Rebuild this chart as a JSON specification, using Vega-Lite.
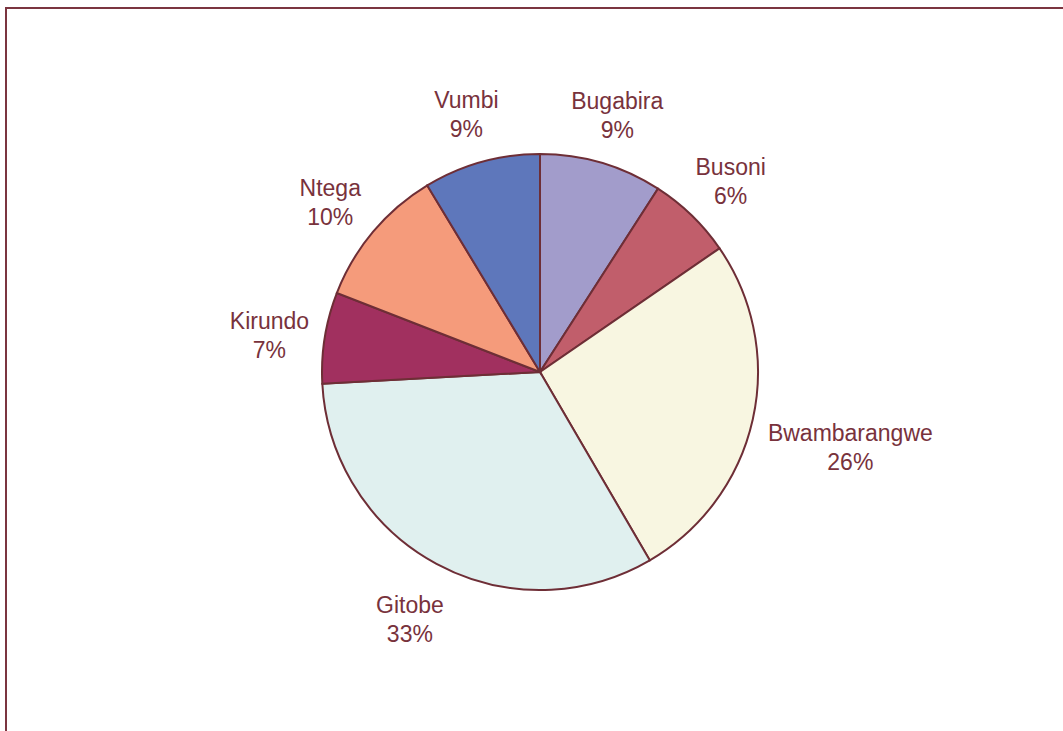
{
  "$schema": "https://vega.github.io/schema/vega-lite/v6.json",
  "width": 1068,
  "height": 728,
  "autosize": {"type": "none"},
  "padding": {"left": 6, "top": 8, "right": 0, "bottom": 0},
  "background": "white",
  "view": {"stroke": "#7B3540", "strokeWidth": 2, "fill": "white"},
  "data": {
    "values": [
      {"name": "Bugabira", "value": 9.1},
      {"name": "Busoni", "value": 6.3},
      {"name": "Bwambarangwe", "value": 26.2},
      {"name": "Gitobe", "value": 32.55},
      {"name": "Kirundo", "value": 6.75},
      {"name": "Ntega", "value": 10.45},
      {"name": "Vumbi", "value": 8.65}
    ]
  },
  "transform": [
    {"stack": "value", "groupby": [], "sort": [{"field": "name", "order": "ascending"}], "as": ["t0", "t1"]},
    {"calculate": "(datum.t0 + datum.t1) / 2", "as": "tmid"},
    {"calculate": "datum.name + '\\n' + format(datum.value, '.0f') + '%'", "as": "label"}
  ],
  "layer": [
    {
      "mark": {"type": "arc", "outerRadius": 218, "stroke": "#6E2E36", "strokeWidth": 2},
      "encoding": {
        "theta": {"field": "t0", "type": "quantitative", "scale": {"domain": [0, 100]}},
        "theta2": {"field": "t1"},
        "color": {
          "field": "name",
          "type": "nominal",
          "scale": {
            "domain": ["Bugabira", "Busoni", "Bwambarangwe", "Gitobe", "Kirundo", "Ntega", "Vumbi"],
            "range": ["#A29CCB", "#C15E6B", "#F8F6E1", "#E0F0EF", "#A1305F", "#F59B7B", "#5E77BB"]
          },
          "legend": null
        }
      }
    },
    {
      "transform": [{"filter": "datum.name !== 'Bwambarangwe'"}],
      "mark": {
        "type": "text",
        "font": "Liberation Sans",
        "fontSize": 23,
        "lineHeight": 29,
        "lineBreak": "\n",
        "align": "center",
        "baseline": "middle",
        "dy": -7,
        "radius": 274,
        "color": "#78323C"
      },
      "encoding": {
        "theta": {"field": "tmid", "type": "quantitative", "scale": {"domain": [0, 100]}},
        "text": {"field": "label", "type": "nominal"}
      }
    },
    {
      "transform": [{"filter": "datum.name === 'Bwambarangwe'"}],
      "mark": {
        "type": "text",
        "font": "Liberation Sans",
        "fontSize": 23,
        "lineHeight": 29,
        "lineBreak": "\n",
        "align": "center",
        "baseline": "middle",
        "dy": -7,
        "radius": 318,
        "color": "#78323C"
      },
      "encoding": {
        "theta": {"field": "tmid", "type": "quantitative", "scale": {"domain": [0, 100]}},
        "text": {"field": "label", "type": "nominal"}
      }
    }
  ]
}
